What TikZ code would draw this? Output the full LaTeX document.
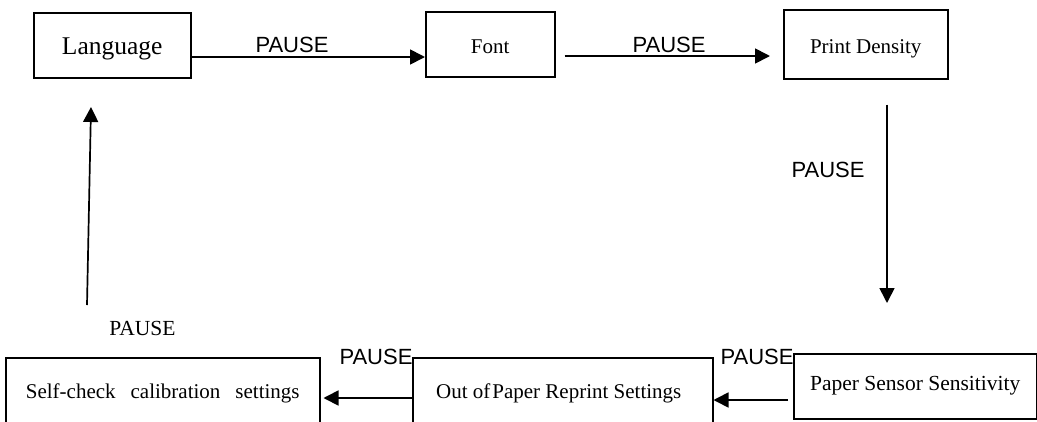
\documentclass[tikz,border=0pt]{standalone}
\usepackage{fontspec}
\setmainfont{Liberation Serif}
\setsansfont{Liberation Sans}
\usetikzlibrary{arrows.meta}
\begin{document}
\begin{tikzpicture}[x=1pt,y=-1pt,
  box/.style={draw, line width=1.5pt, inner sep=0pt, anchor=north west, font=\fontsize{21}{25}\selectfont},
  arr/.style={line width=1.7pt, -{Triangle[length=15pt,width=15pt]}},
  plab/.style={font=\sffamily\fontsize{22}{26}\selectfont, inner sep=0pt},
  slab/.style={font=\fontsize{21.5}{26}\selectfont, inner sep=0pt}]
\useasboundingbox (0,0) rectangle (1037,421);
\clip (0,0) rectangle (1037,421);
% boxes
\node[box, minimum width=157pt, text height=42pt, text depth=23pt, font=\fontsize{25.5}{30}\selectfont] (lang) at (33,12) {Language};
\node[box, minimum width=129pt, text height=42pt, text depth=23pt] (font) at (425,11) {Font};
\node[box, minimum width=164pt, text height=44pt, text depth=25pt] (pd) at (783,9) {Print Density};
\node[box, minimum width=243pt, text height=37pt, text depth=28pt, font=\fontsize{21.5}{25}\selectfont] (sensor) at (793,353) {Paper Sensor Sensitivity};
\node[box, minimum width=300pt, text height=41pt, text depth=39pt] (oop) at (412,357) {\hspace{-8pt}Out of\hspace{2pt}Paper Reprint Settings};
\node[box, minimum width=314pt, text height=41pt, text depth=39pt] (self) at (5,357) {Self-check\hspace{15pt}calibration\hspace{15pt}settings};
% helper coordinates
\coordinate (y1) at (0,57);
\coordinate (y2) at (0,56);
\coordinate (dx) at (887,0);
\coordinate (y3) at (0,400);
\coordinate (y4) at (0,398);
\coordinate (u1) at (87,305);
\coordinate (u2) at (91,107);
% connectors
\draw[arr] (lang.east |- y1) -- (font.west |- y1);
\draw[arr, shorten <=9pt, shorten >=13pt] (font.east |- y2) -- (pd.west |- y2);
\draw[arr, shorten <=25pt, shorten >=50pt] (pd.south -| dx) -- (sensor.north -| dx);
\draw[arr, shorten <=5pt] (sensor.west |- y3) -- (oop.east |- y3);
\draw[arr, shorten >=3pt] (oop.west |- y4) -- (self.east |- y4);
\draw[arr] (u1) -- (u2);
% labels
\node[plab] (p1) at (292,45) {PAUSE};
\node[plab] (p2) at (669,45) {PAUSE};
\node[plab] (p3) at (828,170) {PAUSE};
\node[plab] (p4) at (757,357) {PAUSE};
\node[plab] (p5) at (376,357) {PAUSE};
\node[slab] (p6) at (142.5,328) {PAUSE};
\end{tikzpicture}
\end{document}
